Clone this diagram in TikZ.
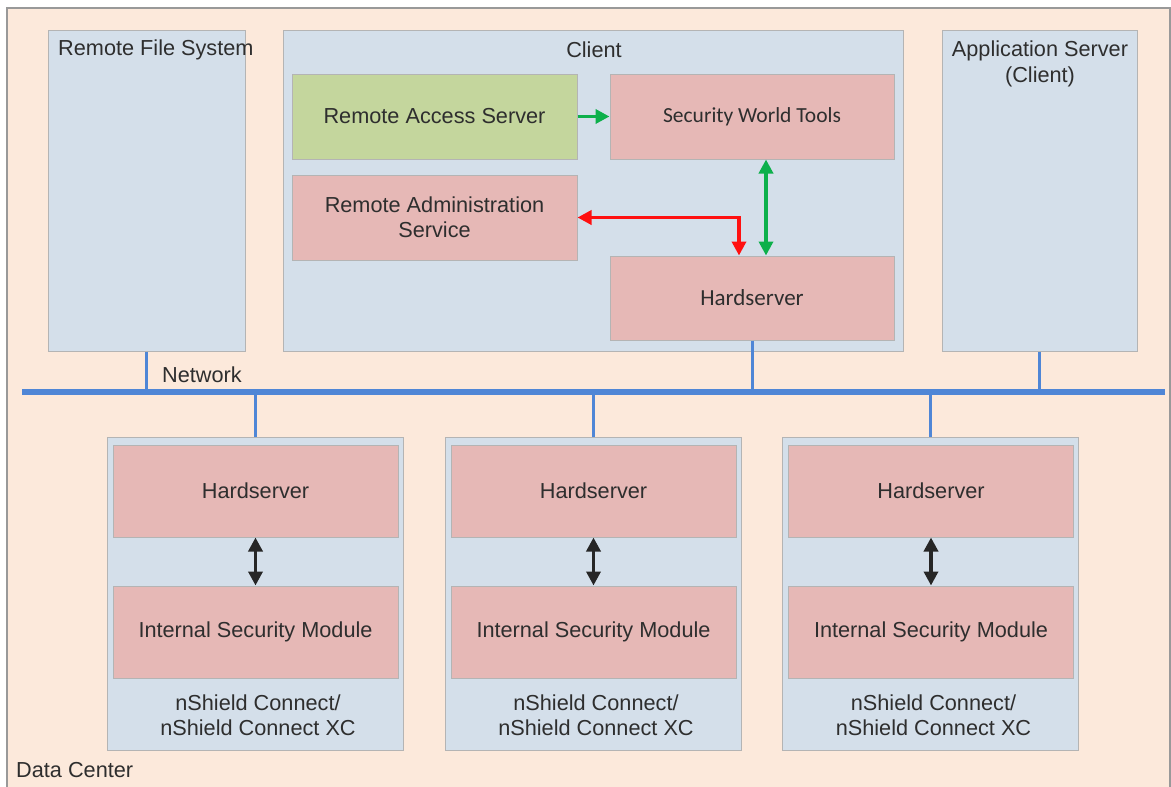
\documentclass[tikz,border=0pt]{standalone}
\usepackage{fontspec}
\setmainfont{Liberation Sans}
\newfontfamily\calib{Carlito}
\usetikzlibrary{arrows.meta}
\definecolor{peach}{HTML}{FCE9DB}
\definecolor{bluebox}{HTML}{D4DFEA}
\definecolor{pinkbox}{HTML}{E6B8B6}
\definecolor{greenbox}{HTML}{C4D69D}
\definecolor{edgegray}{HTML}{B4B4B4}
\definecolor{netblue}{HTML}{4F86D6}
\definecolor{arrgreen}{HTML}{0DB04B}
\definecolor{arrred}{HTML}{FF1010}
\definecolor{txt}{HTML}{2E2E2E}
\tikzset{
  box/.style={draw=edgegray, line width=1pt, inner sep=0pt, text=txt},
  blue/.style={box, fill=bluebox},
  pink/.style={box, fill=pinkbox, align=center},
  green/.style={box, fill=greenbox},
  lbl/.style={inner sep=0pt, text=txt, align=center},
  net/.style={draw=netblue, line width=3pt},
  tipg/.style={-{Triangle[length=14pt,width=14pt]}},
  dtip/.style={{Triangle[length=14pt,width=14pt]}-{Triangle[length=14pt,width=14pt]}},
}
\begin{document}
\begin{tikzpicture}[x=1pt,y=-1pt,font=\fontsize{21.7}{26}\selectfont]
\useasboundingbox (0,0) rectangle (1171,787);
\clip (0,0) rectangle (1171,787);
% data center
\fill[peach] (7,8) rectangle (1170,800);
\draw[draw=gray!80, line width=1.2pt] (7,800) -- (7,8) -- (1170,8) -- (1170,800);
\node[lbl, anchor=west] (dc) at (16,770) {Data Center};
% top boxes
\node[blue, minimum width=197pt, minimum height=321pt] (rfs) at (146.5,190.5) {};
\node[lbl, anchor=west] (rfsl) at (58,50) {Remote File System};
\node[blue, minimum width=620pt, minimum height=321pt] (client) at (593,190.5) {};
\node[lbl] (clientl) at (594,50) {Client};
\node[blue, minimum width=195pt, minimum height=321pt] (app) at (1039.5,190.5) {};
\node[lbl] (appl) at (1040,64) {Application Server\\[0pt](Client)};
% client internals
\node[green, minimum width=285pt, minimum height=85pt] (ras) at (434.5,116.5) {Remote Access Server};
\node[pink, minimum width=285pt, minimum height=85pt] (rad) at (434.5,217.5) {Remote Administration\\[-1pt]Service};
\node[pink, minimum width=284pt, minimum height=85pt, font=\calib\fontsize{21.5}{26}\selectfont] (swt) at (752,116.5) {Security World Tools};
\node[pink, minimum width=284pt, minimum height=84pt, font=\calib\fontsize{23}{26}\selectfont] (hsc) at (752,298) {Hardserver};
\draw[arrgreen, line width=3.5pt, tipg] (ras.east) -- (swt.west);
\draw[arrgreen, line width=3.5pt, dtip] ([xshift=14pt]swt.south) -- ([xshift=14pt]hsc.north);
\draw[arrred, line width=3.5pt, dtip] (rad.east) -| ([xshift=-13pt]hsc.north);
% network
\coordinate (busL) at (22,392);
\coordinate (busR) at (1165,392);
\draw[draw=netblue, line width=6pt] (busL) -- (busR);
\node[lbl, anchor=west] (netl) at (162,375) {Network};
\draw[net] (rfs.south) -- (rfs.south |- busL);
\draw[net] (hsc.south) -- (hsc.south |- busL);
\draw[net] (app.south) -- (app.south |- busL);
% nShield units
\foreach \i/\cx in {1/255, 2/593, 3/930.5} {
  \node[blue, minimum width=296pt, minimum height=313pt] (ns\i) at (\cx,593.5) {};
  \node[pink, minimum width=285pt, minimum height=92pt] (hs\i) at (\cx+0.5,491) {Hardserver};
  \node[pink, minimum width=285pt, minimum height=92pt] (ism\i) at (\cx+0.5,632) {Internal Security Module};
  \node[lbl] (nsl\i) at (\cx+3,715) {nShield Connect/\\[-1pt]nShield Connect XC};
  \draw[black!85, line width=3.5pt, dtip] (hs\i.south) -- (ism\i.north);
  \draw[net] (ns\i.north) -- (ns\i.north |- busL);
}
\end{tikzpicture}
\end{document}
